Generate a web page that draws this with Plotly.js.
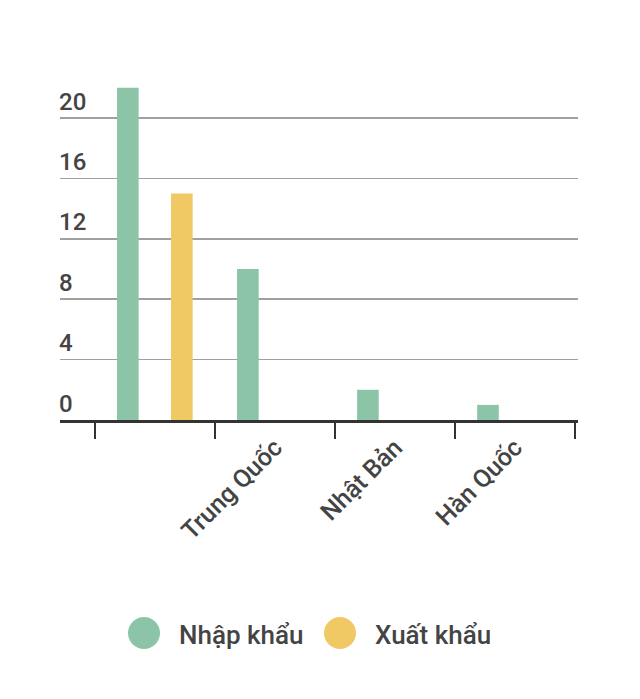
<!DOCTYPE html>
<html>
<head>
<meta charset="utf-8">
<script src="https://cdn.plot.ly/plotly-3.0.1.min.js"></script>
<style>
  html, body { margin: 0; padding: 0; background: #fff; }
  #chart { width: 640px; height: 699px; }
</style>
</head>
<body>
<div id="chart"></div>
<script>
// first category has no label in the original
var categories = [" ", "Trung Quốc", "Nhật Bản", "Hàn Quốc"];
var importVals = [22, 10, 2, 1];
var exportVals = [15, 0, 0, 0];
var seriesNames = ["Nhập khẩu", "Xuất khẩu"];
var yTicks = [0, 4, 8, 12, 16, 20];

var GREEN = "#8cc4a7";
var YELLOW = "#f0c965";
var TEXT = "#444444";
var FONT = "Roboto, 'Noto Sans', sans-serif";

var traces = [{
    type: "bar",
    name: seriesNames[0],
    x: categories,
    y: importVals,
    marker: {color: GREEN},
    showlegend: false,
    hoverinfo: "skip"
}, {
    type: "bar",
    name: seriesNames[1],
    x: categories,
    y: exportVals,
    marker: {color: YELLOW},
    showlegend: false,
    hoverinfo: "skip"
}];

// legend drawn by hand: big round dots like the original
var legendShapes = [];
var legendNotes = [];
var legendColors = [GREEN, YELLOW];
var legendX = [144, 340];
for (var i = 0; i < seriesNames.length; i++) {
    legendShapes.push({
        type: "circle",
        xref: "paper", yref: "paper",
        xsizemode: "pixel", ysizemode: "pixel",
        xanchor: (legendX[i] - 60) / 518, yanchor: (420 - 633) / 350,
        x0: -16, x1: 16, y0: -16, y1: 16,
        fillcolor: legendColors[i],
        line: {width: 0}
    });
    legendNotes.push({
        text: seriesNames[i],
        xref: "paper", yref: "paper",
        x: (legendX[i] + 33 - 60) / 518, y: (420 - 635) / 350,
        xanchor: "left", yanchor: "middle",
        showarrow: false,
        font: {family: FONT, size: 26, weight: 500, color: TEXT}
    });
}

var layout = {
    width: 640,
    height: 699,
    margin: {l: 60, r: 62, t: 70, b: 279},
    paper_bgcolor: "#fff",
    plot_bgcolor: "#fff",
    barmode: "group",
    bargap: 0.1,
    bargroupgap: 0.6,
    font: {family: FONT, color: TEXT},
    xaxis: {
        type: "category",
        range: [-0.79, 3.525],
        tickson: "boundaries",
        ticks: "outside",
        ticklen: 16,
        tickwidth: 2,
        tickcolor: "#333",
        showline: true,
        linewidth: 3,
        linecolor: "#333",
        showgrid: false,
        tickangle: -45,
        tickfont: {family: FONT, size: 25, weight: 500, color: TEXT},
        fixedrange: true
    },
    yaxis: {
        range: [0, 23.18],
        tickvals: yTicks,
        ticktext: yTicks.map(String),
        ticklabelposition: "inside top",
        ticklabelstandoff: -4,
        tickfont: {family: FONT, size: 24, weight: 500, color: TEXT},
        showgrid: true,
        gridcolor: "#a0a0a0",
        gridwidth: 1.5,
        zeroline: false,
        showline: false,
        fixedrange: true
    },
    shapes: legendShapes,
    annotations: legendNotes
};

Plotly.newPlot("chart", traces, layout, {displayModeBar: false, staticPlot: true});
</script>
</body>
</html>
